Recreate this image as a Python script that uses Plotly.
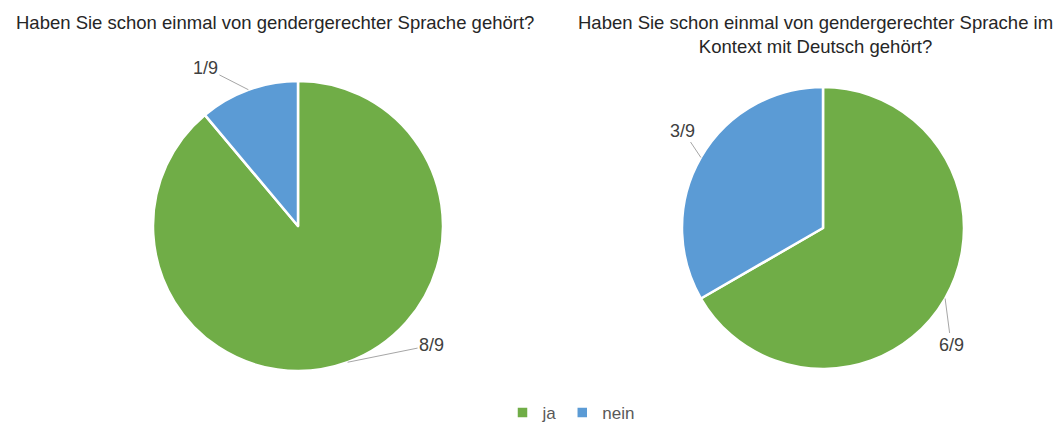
import math
import plotly.graph_objects as go

W, H = 1063, 424

categories = ["ja", "nein"]
values_q1 = [8, 1]
values_q2 = [6, 3]
total = 9
title_q1 = "Haben Sie schon einmal von gendergerechter Sprache gehört?"
title_q2 = "Haben Sie schon einmal von gendergerechter Sprache im<br>Kontext mit Deutsch gehört?"
colors = ["#70AD47", "#5B9BD5"]

# pie geometry in pixels (center x, center y, radius)
geo1 = (298, 226, 145)
geo2 = (823, 228, 141)
# label offsets (pixels) relative to arc midpoint, per slice
offsets1 = [(84, -17), (-43, -22)]
offsets2 = [(6, 46), (-18, -27)]

def domain(g):
    cx, cy, r = g
    return dict(x=[(cx - r) / W, (cx + r) / W], y=[1 - (cy + r) / H, 1 - (cy - r) / H])

fig = go.Figure()
for vals, g in [(values_q1, geo1), (values_q2, geo2)]:
    fig.add_trace(go.Pie(
        labels=categories, values=vals, sort=False, direction="clockwise", rotation=0,
        marker=dict(colors=colors, line=dict(color="white", width=2.5)),
        textinfo="none", hoverinfo="label+value", domain=domain(g),
    ))

annotations = []
for vals, g, offs in [(values_q1, geo1, offsets1), (values_q2, geo2, offsets2)]:
    cx, cy, r = g
    cum = 0
    for v, (ax, ay) in zip(vals, offs):
        mid = (cum + v / 2) / sum(vals) * 2 * math.pi
        cum += v
        px = cx + r * math.sin(mid)
        py = cy - r * math.cos(mid)
        annotations.append(dict(
            x=px / W, y=1 - py / H, xref="paper", yref="paper",
            text=f"{v}/{total}", showarrow=True, arrowhead=0, arrowwidth=1,
            arrowcolor="#A6A6A6", ax=ax, ay=ay, standoff=0,
            font=dict(size=18, color="#404040", family="Liberation Sans"),
        ))

annotations.append(dict(x=275 / W, y=1 - 22 / H, xref="paper", yref="paper", showarrow=False,
                        xanchor="center", yanchor="middle",
                        text=title_q1, font=dict(size=18.5, color="#262626", family="Liberation Sans")))
annotations.append(dict(x=815 / W, y=1 - 35 / H, xref="paper", yref="paper", showarrow=False,
                        xanchor="center", yanchor="middle",
                        text=title_q2, font=dict(size=18.5, color="#262626", family="Liberation Sans")))

fig.update_layout(
    width=W, height=H, margin=dict(l=0, r=0, t=0, b=0, autoexpand=False),
    paper_bgcolor="white", plot_bgcolor="white",
    annotations=annotations,
    legend=dict(orientation="h", x=571 / W, xanchor="center", y=1 - 413 / H, yanchor="middle",
                font=dict(size=17, color="#595959", family="Liberation Sans"),
                itemwidth=30, tracegroupgap=0),
)
fig.write_html("out.html", config={"displayModeBar": False},
               post_script="document.body.style.margin='0';document.body.style.overflow='hidden';")
